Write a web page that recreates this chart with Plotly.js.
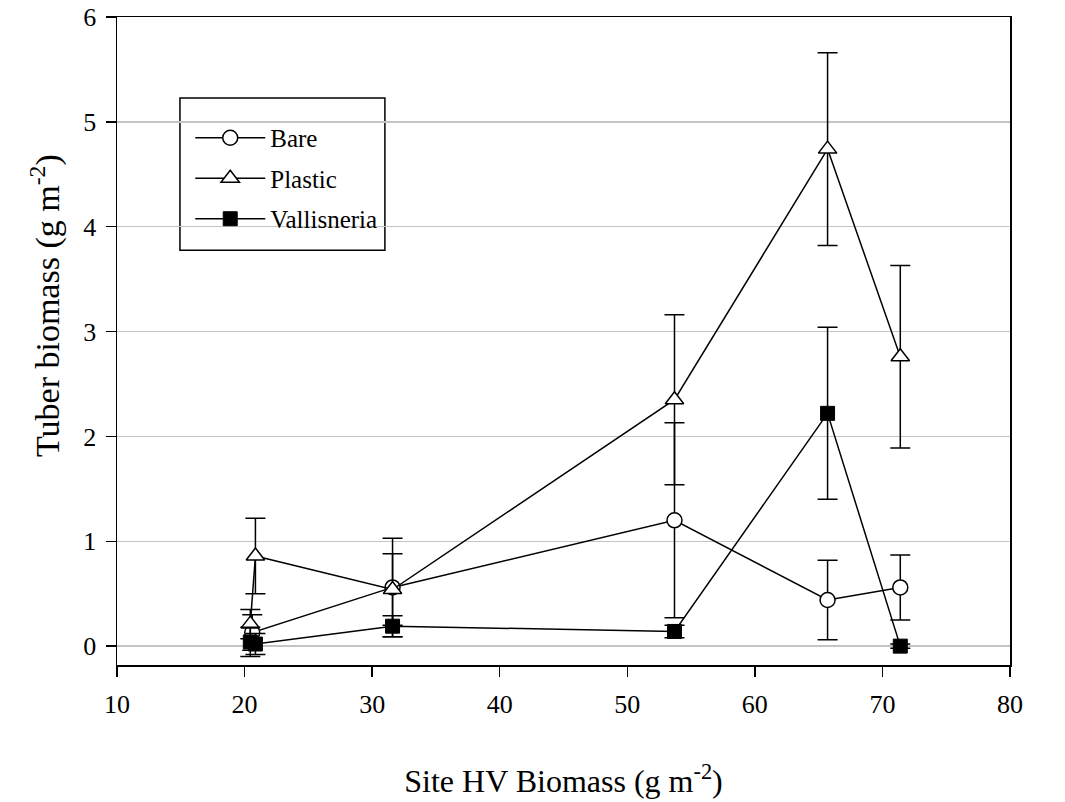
<!DOCTYPE html>
<html>
<head>
<meta charset="utf-8">
<script src="https://cdn.plot.ly/plotly-3.0.1.min.js"></script>
<style>html,body{margin:0;padding:0;background:#fff;}#chart{width:1065px;height:802px;}</style>
</head>
<body>
<div id="chart"></div>
<script>
// Data
const bareX = [20.6, 31.6, 53.7, 65.7, 71.4];
const bareY = [0.13, 0.56, 1.20, 0.44, 0.56];
const bareErr = [0.17, 0.47, 0.93, 0.38, 0.31];

const plasticX = [20.45, 20.85, 31.6, 53.7, 65.7, 71.4];
const plasticY = [0.21, 0.86, 0.54, 2.35, 4.74, 2.76];
const plasticErr = [0.14, 0.36, 0.34, 0.81, 0.92, 0.87];

const vallX = [20.45, 20.85, 31.6, 53.7, 65.7, 71.4];
const vallY = [0.04, 0.02, 0.19, 0.14, 2.22, 0.0];
const vallErr = [0.14, 0.10, 0.10, 0.06, 0.82, 0.02];

const seriesNames = ["Bare", "Plastic", "Vallisneria"];
const xTicks = [10, 20, 30, 40, 50, 60, 70, 80];
const yTicks = [0, 1, 2, 3, 4, 5, 6];
const xTitle = 'Site HV Biomass (g m<sup>-2</sup>)';
const yTitle = 'Tuber biomass (g m<sup>-2</sup>)';

const font = "Liberation Serif, Times New Roman, serif";

function errBar(arr) {
  return {type: 'data', array: arr, visible: true, color: '#000', thickness: 1.5, width: 10};
}

const traces = [
  {x: bareX, y: bareY, name: seriesNames[0], legendgroup: 'g1', type: 'scatter', mode: 'lines+markers',
   line: {color: '#000', width: 1.5},
   marker: {symbol: 'circle', size: 15, color: '#fff', line: {color: '#000', width: 1.5}},
   error_y: errBar(bareErr)},
  {x: plasticX, y: plasticY, name: seriesNames[1], legendgroup: 'g2', type: 'scatter', mode: 'lines+markers',
   line: {color: '#000', width: 1.5},
   marker: {symbol: 'triangle-up', size: 16, color: '#fff', line: {color: '#000', width: 1.5}},
   error_y: errBar(plasticErr)},
  {x: vallX, y: vallY, name: seriesNames[2], legendgroup: 'g3', type: 'scatter', mode: 'lines+markers',
   line: {color: '#000', width: 1.5},
   marker: {symbol: 'square', size: 14, color: '#000', line: {color: '#000', width: 1}},
   error_y: errBar(vallErr)}
];

const layout = {
  width: 1065, height: 802,
  margin: {l: 117, r: 55, t: 17, b: 137},
  paper_bgcolor: '#fff', plot_bgcolor: '#fff',
  font: {family: font, size: 26, color: '#000'},
  showlegend: true,
  legend: {
    x: 0.082, y: 0.8488, xanchor: 'left', yanchor: 'top',
    bgcolor: 'rgba(0,0,0,0)', borderwidth: 0,
    font: {family: font, size: 25, color: '#000'},
    itemwidth: 70, tracegroupgap: 5, traceorder: 'grouped'
  },
  shapes: [{
    type: 'rect', xref: 'paper', yref: 'paper',
    x0: 0.0705, x1: 0.300, y0: 0.640, y1: 0.875,
    line: {color: '#000', width: 1.5}, fillcolor: '#fff', layer: 'between'
  }],
  annotations: [{
    text: yTitle, xref: 'paper', yref: 'paper', x: -0.0806, y: 0.554,
    xanchor: 'center', yanchor: 'middle', textangle: -90, showarrow: false,
    font: {family: font, size: 34, color: '#000'}
  }],
  xaxis: {
    range: [10, 80], tickvals: xTicks, ticktext: xTicks.map(String),
    showgrid: false, zeroline: false,
    showline: true, linecolor: '#000', linewidth: 1.5, mirror: true,
    ticks: 'outside', ticklen: 10, tickwidth: 1.5, tickcolor: '#000',
    ticklabelstandoff: 5,
    tickfont: {family: font, size: 26},
    title: {text: xTitle, font: {family: font, size: 32}, standoff: 52}
  },
  yaxis: {
    range: [-0.18, 6], tickvals: yTicks, ticktext: yTicks.map(String),
    showgrid: true, gridcolor: '#c4c4c4', gridwidth: 1.5, zeroline: false,
    showline: true, linecolor: '#000', linewidth: 1.5, mirror: true,
    ticks: 'outside', ticklen: 10, tickwidth: 1.5, tickcolor: '#000',
    ticklabelstandoff: 4,
    tickfont: {family: font, size: 26}
  }
};

Plotly.newPlot('chart', traces, layout, {displayModeBar: false, staticPlot: true});
</script>
</body>
</html>
